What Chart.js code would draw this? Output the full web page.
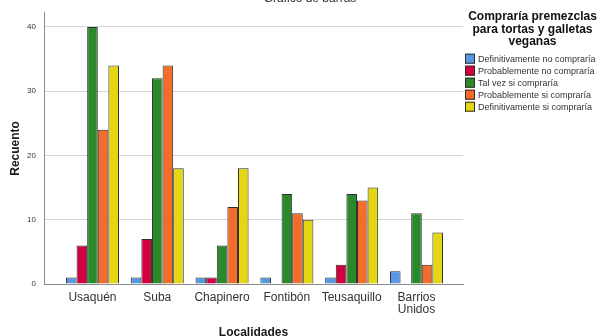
<!DOCTYPE html>
<html>
<head>
<meta charset="utf-8">
<script src="https://cdn.jsdelivr.net/npm/chart.js@4/dist/chart.umd.min.js"></script>
<style>
  html, body { margin: 0; padding: 0; background: #ffffff; }
  #wrap { width: 600px; height: 336px; }
</style>
</head>
<body>
<div id="wrap"><canvas id="c" width="600" height="336"></canvas></div>
<script>
// Localidades (x axis) and their tick labels
const categories = ['Usaquén', 'Suba', 'Chapinero', 'Fontibón', 'Teusaquillo', 'Barrios Unidos'];
const tickLabels = ['Usaquén', 'Suba', 'Chapinero', 'Fontibón', 'Teusaquillo', ['Barrios', 'Unidos']];
const yTicks = [0, 10, 20, 30, 40];

// Recuento per answer, one array per response option
const seriesNames = [
  'Definitivamente no compraría',
  'Probablemente no compraría',
  'Tal vez si compraría',
  'Probablemente si compraría',
  'Definitivamente si compraría'
];
const definitivamenteNo = [1, 1, 1, 1, 1, 2];
const probablementeNo   = [6, 7, 1, null, 3, null];
const talVez            = [40, 32, 6, 14, 14, 11];
const probablementeSi   = [24, 34, 12, 11, 13, 3];
const definitivamenteSi = [34, 18, 18, 10, 15, 8];

const seriesValues = [definitivamenteNo, probablementeNo, talVez, probablementeSi, definitivamenteSi];
const seriesColors = ['#5797e4', '#d2003c', '#2b892b', '#f26c2c', '#e5d614'];

const FONT = "'Liberation Sans', Arial, sans-serif";

const datasets = seriesNames.map((name, s) => ({
  label: name,
  data: seriesValues[s].map((v, i) => ({ x: i, y: v })),
  backgroundColor: seriesColors[s],
  borderColor: '#2e2e2e',
  borderWidth: 1,
  borderSkipped: 'bottom',
  categoryPercentage: 0.818,
  barPercentage: 1.0
}));

// Chart title, clipped at the top edge of the canvas
const topTitle = {
  id: 'topTitle',
  afterDraw(chart) {
    const ctx = chart.ctx;
    ctx.save();
    ctx.font = '12px ' + FONT;
    ctx.fillStyle = '#333333';
    ctx.textAlign = 'center';
    ctx.textBaseline = 'alphabetic';
    ctx.fillText('Gráfico de barras', 310, 2);
    ctx.restore();
  }
};

// Legend with a three-line title at the right of the plot
const sideLegend = {
  id: 'sideLegend',
  afterDraw(chart) {
    const ctx = chart.ctx;
    ctx.save();
    ctx.fillStyle = '#111111';
    ctx.font = 'bold 12px ' + FONT;
    ctx.textAlign = 'center';
    ctx.textBaseline = 'middle';
    const titleLines = ['Compraría premezclas', 'para tortas y galletas', 'veganas'];
    titleLines.forEach((t, i) => ctx.fillText(t, 532.5, 17 + i * 12.2));

    ctx.font = '9px ' + FONT;
    ctx.textAlign = 'left';
    chart.data.datasets.forEach((ds, i) => {
      const y = 58.7 + i * 12;
      ctx.fillStyle = ds.backgroundColor;
      ctx.fillRect(465, y - 5, 10, 10);
      ctx.strokeStyle = '#2e2e2e';
      ctx.lineWidth = 1;
      ctx.strokeRect(465.5, y - 4.5, 9, 9);
      ctx.fillStyle = '#333333';
      ctx.fillText(ds.label, 478, y + 0.5);
    });
    ctx.restore();
  }
};

new Chart(document.getElementById('c'), {
  type: 'bar',
  data: { datasets },
  options: {
    responsive: false,
    devicePixelRatio: 1,
    animation: false,
    layout: { padding: { left: 0, top: 6, right: 137, bottom: 0 } },
    plugins: {
      legend: { display: false },
      tooltip: { enabled: false },
      title: { display: false }
    },
    scales: {
      x: {
        type: 'linear',
        offset: false,
        min: -0.748,
        max: 5.718,
        afterBuildTicks(scale) { scale.ticks = categories.map((c, i) => ({ value: i })); },
        afterFit(scale) { scale.height = 52; },
        grid: { display: false, drawTicks: false, offset: false },
        border: { display: true, color: '#8a8a8a', width: 1 },
        ticks: {
          autoSkip: false,
          maxRotation: 0,
          padding: 8,
          color: '#333333',
          font: { family: FONT, size: 12, lineHeight: 1.0 },
          callback: (v) => tickLabels[v]
        },
        title: {
          display: true,
          text: 'Localidades',
          color: '#1a1a1a',
          font: { family: FONT, size: 12, weight: 'bold', lineHeight: 1.0 },
          padding: { top: 0, bottom: -2.5 }
        }
      },
      y: {
        min: 0,
        max: 42.2,
        afterBuildTicks(scale) { scale.ticks = yTicks.map(v => ({ value: v })); },
        afterFit(scale) { scale.width = 44; },
        grid: { color: '#d6d6d6', lineWidth: 1, drawTicks: false },
        border: { display: true, color: '#8a8a8a', width: 1 },
        ticks: {
          padding: 8,
          color: '#333333',
          font: { family: FONT, size: 8 }
        },
        title: {
          display: true,
          text: 'Recuento',
          color: '#1a1a1a',
          font: { family: FONT, size: 12, weight: 'bold', lineHeight: 1.2 },
          padding: { top: 8, bottom: 0 }
        }
      }
    }
  },
  plugins: [topTitle, sideLegend]
});
</script>
</body>
</html>
